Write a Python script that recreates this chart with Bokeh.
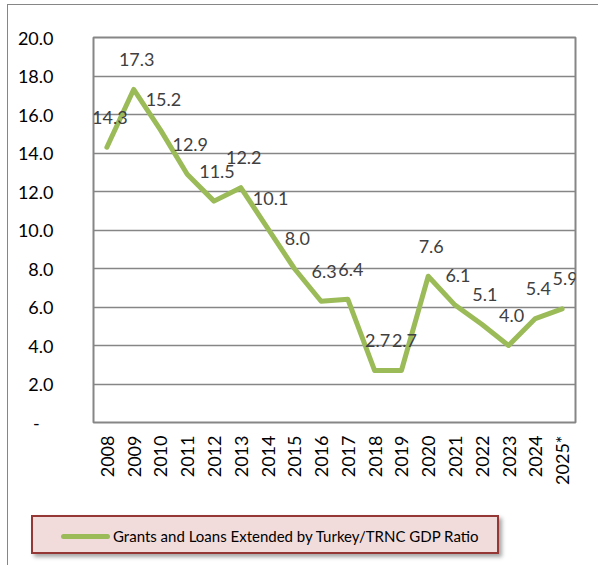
import math
from bokeh.plotting import figure
from bokeh.layouts import column
from bokeh.models import (ColumnDataSource, FactorRange, Range1d, LabelSet, Div,
                          FixedTicker, CustomJSTickFormatter)
from bokeh.embed import file_html
from bokeh.resources import INLINE
from bokeh.core.properties import value

years = ["2008", "2009", "2010", "2011", "2012", "2013", "2014", "2015", "2016",
         "2017", "2018", "2019", "2020", "2021", "2022", "2023", "2024", "2025*"]
ratio = [14.3, 17.3, 15.2, 12.9, 11.5, 12.2, 10.1, 8.0, 6.3,
         6.4, 2.7, 2.7, 7.6, 6.1, 5.1, 4.0, 5.4, 5.9]
y_ticks = [0, 2, 4, 6, 8, 10, 12, 14, 16, 18, 20]
series_name = "Grants and Loans Extended by Turkey/TRNC GDP Ratio"

FONT = "Lato"
GRID = "#868686"
GREEN = "#9BBB59"

src = ColumnDataSource(dict(x=years, y=ratio, lbl=[f"{v:.1f}" for v in ratio]))

p = figure(width=590, height=495, x_range=FactorRange(*years), y_range=Range1d(0, 20),
           output_backend="svg", toolbar_location=None, title=None,
           min_border_left=85, min_border_right=23, min_border_top=32, min_border_bottom=78)
p.background_fill_color = "white"
p.border_fill_color = "white"
p.outline_line_color = GRID
p.outline_line_width = 2

p.xgrid.visible = False
p.ygrid.grid_line_color = GRID
p.ygrid.grid_line_width = 1.5

p.yaxis.ticker = FixedTicker(ticks=y_ticks)
p.yaxis.formatter = CustomJSTickFormatter(
    code="return tick == 0 ? '-\u00a0\u00a0\u00a0' : tick.toFixed(1);")
p.yaxis.axis_line_color = None
p.yaxis.major_tick_line_color = None
p.yaxis.minor_tick_line_color = None
p.yaxis.major_tick_out = 0
p.yaxis.major_tick_in = 0
p.yaxis.major_label_standoff = 40
p.yaxis.major_label_text_font = FONT
p.yaxis.major_label_text_font_size = "18px"
p.yaxis.major_label_text_color = "#000000"

p.xaxis.axis_line_color = None
p.xaxis.major_tick_line_color = None
p.xaxis.major_tick_out = 0
p.xaxis.major_tick_in = 0
p.xaxis.major_label_orientation = math.pi / 2
p.xaxis.major_label_standoff = 13
p.xaxis.major_label_text_font = FONT
p.xaxis.major_label_text_font_size = "18px"
p.xaxis.major_label_text_color = "#000000"

r = p.line("x", "y", source=src, line_color=GREEN, line_width=5,
           line_join="round", line_cap="round")

labels = LabelSet(x="x", y="y", text="lbl", source=src, x_offset=3, y_offset=30,
                  text_align="center", text_baseline="middle",
                  text_font=value(FONT), text_font_size="18px", text_color="#404040")
p.add_layout(labels)

legend_html = (
    '<div style="position:relative;width:580px;height:55px;">'
    '<div style="position:absolute;box-sizing:border-box;left:18px;top:10px;'
    'width:468px;height:39px;background:#F2DCDB;border:2px solid #953735;'
    'box-shadow:3px 3px 4px rgba(0,0,0,0.35);"></div>'
    f'<div style="position:absolute;left:48px;top:29px;width:49px;height:5px;'
    f'border-radius:3px;background:{GREEN};"></div>'
    f'<div style="position:absolute;left:100px;top:22px;font-family:{FONT};font-size:15px;'
    f'line-height:19px;color:#000000;white-space:nowrap;">{series_name}</div>'
    '</div>'
)
legend_div = Div(text=legend_html, width=590, height=65)

layout = column(p, legend_div, spacing=0,
                styles={"border-left": "1px solid #868686", "border-top": "1px solid #868686",
                        "margin-left": "7px", "margin-top": "4px"})

open("out.html", "w").write(file_html(layout, INLINE))
